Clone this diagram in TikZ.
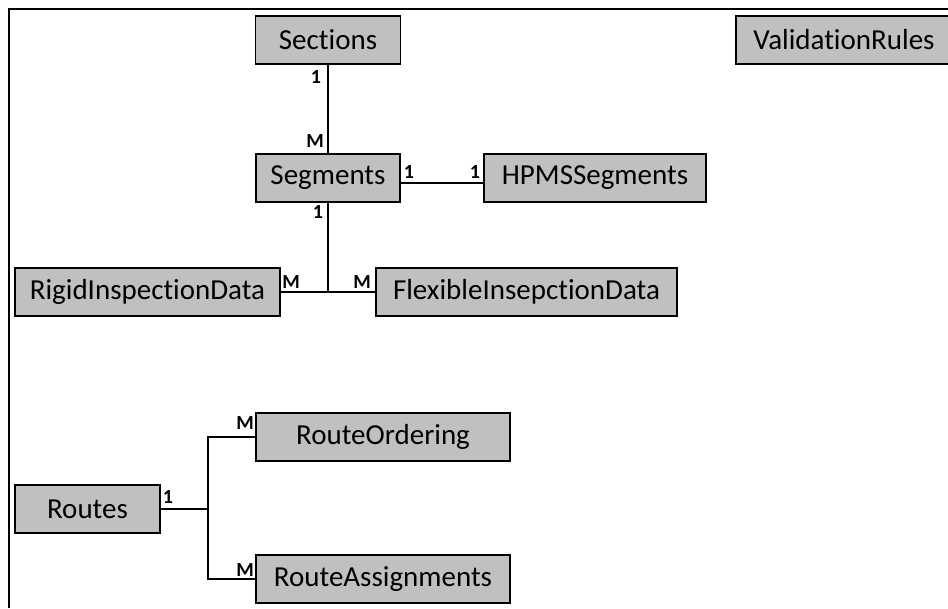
\documentclass[tikz,border=0pt]{standalone}
\usepackage{fontspec}
\setmainfont{Carlito}[RawFeature={-liga;-clig;-calt;-dlig}]
\definecolor{tablegray}{RGB}{192,192,192}
\begin{document}
\begin{tikzpicture}[x=1pt,y=-1pt,line width=1.6pt,
    table/.style={draw,fill=tablegray,minimum height=48pt,inner sep=0pt,
      font=\fontsize{29}{34}\selectfont},
    card/.style={inner sep=0pt,font=\fontsize{20}{22}\selectfont\bfseries}]
  \useasboundingbox (0,0) rectangle (948,608);
  \draw (9,608) -- (9,9) -- (948,9);
  \node[table,minimum width=145pt] (sections) at (328,40) {Sections};
  \node[table,minimum width=144pt] (segments) at (328,178) {Segments};
  \node[table,minimum width=222pt] (hpms) at (595,178) {HPMSSegments};
  \node[table,minimum width=216pt] (rules) at (844,40) {ValidationRules};
  \node[table,minimum width=265pt] (rigid) at (147.5,292) {RigidInspectionData};
  \node[table,minimum width=301pt] (flexible) at (526.5,292) {FlexibleInsepctionData};
  \node[table,minimum width=145pt] (routes) at (87.5,509) {Routes};
  \node[table,minimum width=254pt] (ordering) at (383,437) {RouteOrdering};
  \node[table,minimum width=254pt] (assign) at (383,579) {RouteAssignments};
  \coordinate (inspjoin) at (328,292);
  \coordinate (routejoin) at (208,509);
  \draw (sections.south) -- (segments.north);
  \draw ([yshift=-5pt]segments.east) -- ([yshift=-5pt]hpms.west);
  \draw (segments.south) -- (inspjoin);
  \draw (rigid.east) -- (flexible.west);
  \draw (routes.east) -- (routejoin);
  \draw (ordering.west) -| (routejoin) |- (assign.west);
  \node[card] (secone) at (316,77) {1};
  \node[card] (segm) at (315,141) {M};
  \node[card] (segone) at (409,172) {1};
  \node[card] (hpmsone) at (475,172) {1};
  \node[card] (segdown) at (318,212) {1};
  \node[card] (rigidm) at (291,282) {M};
  \node[card] (flexm) at (362,282) {M};
  \node[card] (routesone) at (168,497) {1};
  \node[card] (orderm) at (245,423) {M};
  \node[card] (assignm) at (245,570) {M};
\end{tikzpicture}
\end{document}
